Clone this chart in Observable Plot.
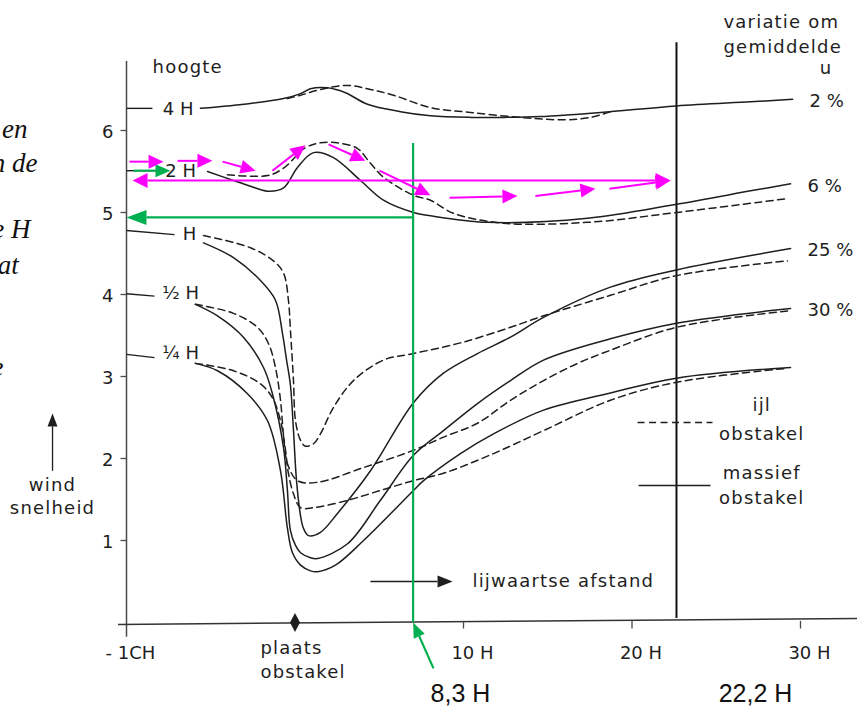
<!DOCTYPE html>
<html>
<head>
<meta charset="utf-8">
<script src="https://cdn.jsdelivr.net/npm/d3@7"></script>
<script src="https://cdn.jsdelivr.net/npm/@observablehq/plot@0.6"></script>
<style>
  html, body { margin: 0; padding: 0; background: #ffffff; }
  #chart svg { display: block; }
</style>
</head>
<body>
<div id="chart"></div>
<script>
// ---------------- DATA (x: leeward distance in H, y: wind speed) ----------------
// 4 H
const h4SolidDist  = [-5.61, -2.64, -0.68, 0.33, 0.92, 1.93, 3.00, 4.30, 6.26, 8.04, 10.42, 12.37, 14.57, 18.13, 22.64, 27.03, 29.53];
const h4SolidSpeed = [ 6.27,  6.33,  6.39, 6.45, 6.51, 6.52, 6.46, 6.32, 6.23, 6.18,  6.16,  6.16,  6.17,  6.22,  6.30,  6.35,  6.38];
const h4DashDist   = [-0.45, 0.33, 1.51, 3.12, 4.48, 5.85, 8.04, 10.42, 13.38, 15.93, 17.54, 18.90];
const h4DashSpeed  = [ 6.39, 6.43, 6.50, 6.55, 6.50, 6.43, 6.28,  6.22,  6.16,  6.13,  6.16,  6.24];
// 2 H
const h2SolidDist  = [-5.19, -3.65, -2.64, -1.63, -0.68, 0.15, 1.10, 2.28, 3.89, 5.25, 7.03, 8.04, 11.42, 17.36, 22.64, 27.21, 29.41];
const h2SolidSpeed = [ 5.50,  5.39,  5.32,  5.26,  5.30, 5.55, 5.73, 5.67, 5.39, 5.15, 5.00, 4.96,  4.88,  4.93,  5.10,  5.27,  5.35];
const h2DashDist   = [-4.01, -1.63, -0.68, 0.62, 1.51, 2.52, 3.71, 4.48, 5.25, 7.03, 8.04, 9.41, 12.37, 17.36, 22.64, 29.23];
const h2DashSpeed  = [ 5.46,  5.45,  5.54, 5.79, 5.85, 5.85, 5.78, 5.60, 5.43, 5.21, 5.15, 4.99,  4.87,  4.88,  5.00,  5.17];
// 1 H
const h1SolidDist  = [-5.43, -3.65, -2.05, -1.16, -0.74, -0.50, -0.27, -0.09, 0.09, 0.33, 0.50, 0.80, 1.51, 2.52, 4.48, 7.03, 8.81, 10.83, 12.79, 14.75, 18.72, 22.64, 29.41];
const h1SolidSpeed = [ 4.63,  4.45,  4.17,  3.93,  3.52,  3.20,  2.89,  2.34, 1.73, 1.30, 1.15, 1.06, 1.10, 1.33, 1.85, 2.68, 3.04,  3.28,  3.48,  3.72,  4.09,  4.30,  4.56];
const h1DashDist   = [-5.43, -2.64, -1.28, -0.68, -0.39, -0.27, -0.09, 0.03, 0.33, 0.62, 1.10, 1.51, 2.28, 3.47, 5.25, 7.03, 9.82, 12.79, 14.75, 18.72, 22.64, 29.23];
const h1DashSpeed  = [ 4.72,  4.57,  4.41,  4.26,  3.93,  3.56,  2.95, 2.46, 2.22, 2.15, 2.18, 2.30, 2.62, 2.95, 3.20, 3.28, 3.41,  3.60,  3.74,  3.99,  4.23,  4.41];
// 1/2 H
const hHalfSolidDist  = [-5.91, -4.60, -3.06, -1.87, -1.34, -0.68, -0.45, -0.27, 0.03, 0.33, 0.92, 1.34, 3.12, 5.07, 7.03, 8.81, 10.83, 12.79, 14.75, 18.72, 22.64, 29.41];
const hHalfSolidSpeed = [ 3.88,  3.74,  3.48,  3.11,  2.79,  2.13,  1.61,  1.12, 0.94, 0.85, 0.79, 0.78, 0.96, 1.49, 2.04, 2.34,  2.67,  2.95,  3.20,  3.46,  3.65,  3.83];
const hHalfDashDist   = [-5.91, -3.65, -2.23, -1.57, -1.16, -0.86, -0.68, -0.45, 0.15, 1.34, 4.07, 7.03, 8.81, 10.83, 12.79, 14.75, 16.77, 18.72, 22.64, 29.23];
const hHalfDashSpeed  = [ 3.88,  3.77,  3.60,  3.40,  3.11,  2.71,  2.28,  1.94, 1.73, 1.71, 1.89, 2.10, 2.26,  2.43,  2.71,  2.95,  3.16,  3.32,  3.60,  3.80];
// 1/4 H
const hQuarterSolidDist  = [-5.91, -4.60, -2.82, -1.63, -0.86, -0.45, -0.15, 0.33, 0.92, 1.34, 2.40, 4.07, 7.03, 7.63, 9.82, 11.78, 14.75, 18.72, 22.64, 29.41];
const hQuarterSolidSpeed = [ 3.16,  3.07,  2.79,  2.46,  1.85,  1.15,  0.85, 0.70, 0.63, 0.62, 0.70, 1.00, 1.61, 1.73, 2.06,  2.30,  2.59,  2.80,  2.98,  3.11];
const hQuarterDashDist   = [-5.91, -3.65, -2.05, -1.34, -0.86, -0.56, -0.39, -0.09, 0.33, 1.10, 3.12, 5.07, 7.03, 8.81, 11.78, 14.75, 18.72, 22.64, 29.23];
const hQuarterDashSpeed  = [ 3.16,  3.07,  2.91,  2.74,  2.46,  2.10,  1.82,  1.57, 1.40, 1.40, 1.49, 1.61, 1.73, 1.82,  2.06,  2.34,  2.71,  2.93,  3.10];

// upstream profile stubs (from the speed axis to the height label)
const leaderFromSpeed = [6.27, 5.51, 4.78, 4.01, 3.27];
const leaderToSpeed   = [6.27, 5.51, 4.73, 3.98, 3.23];
const leaderToDist    = [-8.46, -8.2, -7.15, -8.34, -8.34];

// labels
const heightNames      = ["4 H", "2 H", "H", "½ H", "¼ H"];
const heightLabelDist  = [-6.94, -6.79, -6.26, -6.79, -6.79];
const heightLabelSpeed = [6.26, 5.50, 4.74, 4.02, 3.28];
const variationLabels  = ["2 %", "6 %", "25 %", "30 %"];
const yTickValues = [1, 2, 3, 4, 5, 6];
const xTickValues = [-10, 10, 20, 30];
const xTickLabels = ["- 1CH", "10 H", "20 H", "30 H"];
const obstacleDist = [0];
const markerLineDist = [7.01, 22.64];          // green and black verticals
const markerLabels   = ["8,3 H", "22,2 H"];
const markerLabelDist = [9.82, 27.33];

// magenta flow arrows (from -> to)
const magentaFromDist  = [-9.82, -6.97, -4.30, -1.34, 1.99, 5.01, 9.17, 14.27, 18.66];
const magentaFromSpeed = [ 5.62,  5.63,  5.62,  5.51, 5.83, 5.51, 5.18,  5.20,  5.29];
const magentaToDist    = [-7.80, -4.90, -2.34,  0.62, 4.18, 8.04, 13.20, 17.83, 22.29];
const magentaToSpeed   = [ 5.62,  5.63,  5.51,  5.82, 5.63, 5.21, 5.20,  5.29,  5.39];
const magentaSpanDist  = [-9.64, 22.29];
const magentaSpanSpeed = 5.39;
// green annotations
const greenTopSpeed   = 5.84;
const greenLevelSpeed = 4.94;
const greenSmallFrom  = [-9.58, 5.51], greenSmallTo = [-7.39, 5.51];
const greenPointerFrom = [8.22, -0.56];

// left cut-off italic text
const sideFragments     = ["en", "n de", "e H", "at", "e"];
const sideFragmentDist  = [-15.88, -15.28, -15.70, -16.40, -17.30];
const sideFragmentSpeed = [6.02, 5.60, 4.80, 4.35, 3.11];

// ---------------- SCALES ----------------
const xDomain = [-10, 30], xRange = [126, 800];
const yDomain = [0, 6], yRange = [622, 130];
const kx = (xRange[1] - xRange[0]) / (xDomain[1] - xDomain[0]);   // px per H
const ky = (yRange[0] - yRange[1]) / (yDomain[1] - yDomain[0]);   // px per speed unit
const px2x = p => p / kx, px2y = p => p / ky;

const ink = "#1e1e1e", axisInk = "#4a4a4a", magenta = "#ff00ff", green = "#00b050";
const sans = "DejaVu Sans, sans-serif";

// ---------------- BUILD ROWS ----------------
const toRows = (d, s, key) => d.map((x, i) => ({x, y: s[i], key}));
const solidRows = [
  ...toRows(h4SolidDist, h4SolidSpeed, "4H"), ...toRows(h2SolidDist, h2SolidSpeed, "2H"),
  ...toRows(h1SolidDist, h1SolidSpeed, "1H"), ...toRows(hHalfSolidDist, hHalfSolidSpeed, "hH"),
  ...toRows(hQuarterSolidDist, hQuarterSolidSpeed, "qH")];
const dashRows = [
  ...toRows(h4DashDist, h4DashSpeed, "4H"), ...toRows(h2DashDist, h2DashSpeed, "2H"),
  ...toRows(h1DashDist, h1DashSpeed, "1H"), ...toRows(hHalfDashDist, hHalfDashSpeed, "hH"),
  ...toRows(hQuarterDashDist, hQuarterDashSpeed, "qH")];
const leaders = leaderFromSpeed.map((s, i) => ({x1: xDomain[0], y1: s, x2: leaderToDist[i], y2: leaderToSpeed[i]}));
const heightLabelRows = heightNames.map((t, i) => ({t, x: heightLabelDist[i], y: heightLabelSpeed[i]}));
const seriesEnds = [
  [h4SolidDist, h4SolidSpeed], [h2SolidDist, h2SolidSpeed], [h1SolidDist, h1SolidSpeed], [hHalfSolidDist, hHalfSolidSpeed]
].map(([d, s]) => ({x: d[d.length - 1], y: s[s.length - 1]}));
const variationRows = variationLabels.map((t, i) => ({t, ...seriesEnds[i]}));

// arrows -> shaft + filled triangular head (computed in pixel space)
function arrow(x1, y1, x2, y2, len, wid, id) {
  const dxp = (x2 - x1) * kx, dyp = (y2 - y1) * ky, n = Math.hypot(dxp, dyp);
  const ux = dxp / n, uy = dyp / n;
  const bx = x2 - px2x(ux * len), by = y2 - px2y(uy * len);
  const h = wid / 2;
  return {
    shaft: {x1, y1, x2: bx, y2: by},
    head: [
      {id, x: x2, y: y2},
      {id, x: bx + px2x(-uy * h), y: by + px2y(ux * h)},
      {id, x: bx - px2x(-uy * h), y: by - px2y(ux * h)}
    ]
  };
}
const spanMid = (magentaSpanDist[0] + magentaSpanDist[1]) / 2;
const magentaArrows = [
  ...magentaFromDist.map((d, i) => arrow(d, magentaFromSpeed[i], magentaToDist[i], magentaToSpeed[i], 15, 14, "m" + i)),
  arrow(spanMid, magentaSpanSpeed, magentaSpanDist[0], magentaSpanSpeed, 15, 15, "ms0"),
  arrow(spanMid, magentaSpanSpeed, magentaSpanDist[1], magentaSpanSpeed, 15, 15, "ms1")
];
const greenArrows = [
  arrow(markerLineDist[0], greenLevelSpeed, xDomain[0], greenLevelSpeed, 20, 15, "g0"),
  arrow(greenSmallFrom[0], greenSmallFrom[1], greenSmallTo[0], greenSmallTo[1], 15, 13, "g1"),
  arrow(greenPointerFrom[0], greenPointerFrom[1], markerLineDist[0], 0, 15, 12, "g2")
];
const blackArrows = [
  arrow(4.48, 0.50, 9.35, 0.50, 15, 12, "b0"),      // lijwaartse afstand
  arrow(-14.39, 1.85, -14.39, 2.55, 13, 10, "b1")   // wind snelheid
];
const diamond = obstacleDist.flatMap(d => [
  {x: d, y: px2y(9.5)}, {x: d + px2x(5), y: 0}, {x: d, y: -px2y(9.5)}, {x: d - px2x(5), y: 0}
]);

const yTickLen = px2x(6), xTickLen = px2y(6);
const textOpts = {fontFamily: sans, fontSize: 18, fill: ink};
const wordTexts = ["plaats", "obstakel", "hoogte", "variatie om", "gemiddelde", "ijl", "massief", "lijwaartse afstand", "wind", "snelheid"];

const chart = Plot.plot({
  width: 857,
  height: 706,
  margin: 0,
  style: {background: "#ffffff", fontFamily: sans, overflow: "visible"},
  x: {domain: xDomain, range: xRange, axis: null},
  y: {domain: yDomain, range: yRange, axis: null},
  marks: [
    // axes
    Plot.ruleX([xDomain[0]], {y1: -0.18, y2: 6.84, stroke: axisInk, strokeWidth: 1.5}),
    Plot.link([{x1: -10.5, y1: -0.024, x2: 33.5, y2: 0.05}], {x1: "x1", y1: "y1", x2: "x2", y2: "y2", stroke: "#333", strokeWidth: 1.5}),
    Plot.link(yTickValues, {x1: xDomain[0] - yTickLen, x2: xDomain[0], y1: d => d, y2: d => d, stroke: axisInk, strokeWidth: 1.3}),
    Plot.text(yTickValues, {x: xDomain[0], y: d => d, text: d => String(d), textAnchor: "end", dx: -13, dy: 2, ...textOpts}),
    Plot.link(xTickValues.slice(1), {x1: d => d, x2: d => d, y1: 0.02, y2: -xTickLen, stroke: axisInk, strokeWidth: 1.3}),
    Plot.text(xTickValues.slice(0, 1), {x: d => d, y: 0, text: () => xTickLabels[0], dx: 4, dy: 31, ...textOpts}),
    Plot.text(xTickValues.slice(1), {x: d => d, y: 0, text: (d, i) => xTickLabels[i + 1], dx: 9, dy: 31, ...textOpts}),

    // obstacle marker
    Plot.line(diamond, {x: "x", y: "y", fill: ink, stroke: "none", curve: "linear-closed"}),
    Plot.text(["plaats", "obstakel"], {x: -2.05, y: (d, i) => [-0.317, -0.61][i], text: d => d, textAnchor: "start", ...textOpts}),

    // vertical black line
    Plot.ruleX([markerLineDist[1]], {y1: 0.05, y2: 7.07, stroke: "#111", strokeWidth: 2}),

    // upstream stubs + height labels
    Plot.link(leaders, {x1: "x1", y1: "y1", x2: "x2", y2: "y2", stroke: ink, strokeWidth: 1.4}),
    Plot.text(heightLabelRows, {x: "x", y: "y", text: "t", ...textOpts}),
    Plot.text(["hoogte"], {x: -8.45, y: 6.77, text: d => d, textAnchor: "start", ...textOpts}),

    // profiles
    Plot.line(dashRows, {x: "x", y: "y", z: "key", stroke: ink, strokeWidth: 1.5, strokeDasharray: "7,4.5", curve: "catmull-rom"}),
    Plot.line(solidRows, {x: "x", y: "y", z: "key", stroke: ink, strokeWidth: 1.5, curve: "catmull-rom"}),

    // variation labels
    Plot.text(variationRows, {x: "x", y: "y", text: "t", textAnchor: "start", dx: 17, dy: 2, ...textOpts}),
    Plot.text(["variatie om", "gemiddelde"], {x: 25.43, y: (d, i) => [7.32, 7.01][i], text: d => d, textAnchor: "start", ...textOpts}),
    Plot.text(["u"], {x: 31.48, y: 6.76, text: d => d, ...textOpts}),

    // legend
    Plot.link([{x1: 20.33, x2: 24.78, y: 2.44}], {x1: "x1", x2: "x2", y1: "y", y2: "y", stroke: ink, strokeWidth: 1.5, strokeDasharray: "7,4.5"}),
    Plot.link([{x1: 20.39, x2: 24.66, y: 1.67}], {x1: "x1", x2: "x2", y1: "y", y2: "y", stroke: ink, strokeWidth: 1.5}),
    Plot.text(["ijl", "obstakel", "massief", "obstakel"], {x: 27.7, y: (d, i) => [2.65, 2.30, 1.82, 1.52][i], text: d => d, ...textOpts}),

    // black arrows + their labels
    Plot.link(blackArrows.map(a => a.shaft), {x1: "x1", y1: "y1", x2: "x2", y2: "y2", stroke: ink, strokeWidth: 1.3}),
    Plot.line(blackArrows.flatMap(a => a.head), {x: "x", y: "y", z: "id", fill: ink, stroke: "none", curve: "linear-closed"}),
    Plot.text(["lijwaartse afstand"], {x: 10.53, y: 0.5, text: d => d, textAnchor: "start", ...textOpts}),
    Plot.text(["wind", "snelheid"], {x: -14.39, y: (d, i) => [1.68, 1.39][i], text: d => d, ...textOpts}),

    // green annotation
    Plot.ruleX([markerLineDist[0]], {y1: 0, y2: greenTopSpeed, stroke: green, strokeWidth: 2.2}),
    Plot.link(greenArrows.map(a => a.shaft), {x1: "x1", y1: "y1", x2: "x2", y2: "y2", stroke: green, strokeWidth: 2.2}),
    Plot.line(greenArrows.flatMap(a => a.head), {x: "x", y: "y", z: "id", fill: green, stroke: "none", curve: "linear-closed"}),

    // magenta flow arrows
    Plot.link(magentaArrows.map(a => a.shaft), {x1: "x1", y1: "y1", x2: "x2", y2: "y2", stroke: magenta, strokeWidth: 2}),
    Plot.line(magentaArrows.flatMap(a => a.head), {x: "x", y: "y", z: "id", fill: magenta, stroke: "none", curve: "linear-closed"}),

    // marker labels
    Plot.text(markerLabels, {x: (d, i) => markerLabelDist[i], y: -0.87, text: d => d, fontFamily: "Liberation Sans, Arial, sans-serif", fontSize: 25, fill: "#111"}),

    // cut-off italic text on the left
    Plot.text(sideFragments, {x: (d, i) => sideFragmentDist[i], y: (d, i) => sideFragmentSpeed[i], text: d => d, textAnchor: "end",
      fontFamily: "Liberation Serif, Times New Roman, serif", fontStyle: "italic", fontSize: 27, fill: "#111"})
  ]
});
// wider tracking for the word labels (the original uses a wide geometric face)
d3.select(chart).selectAll("text")
  .filter(function () { return wordTexts.includes(this.textContent); })
  .attr("letter-spacing", "1.2")
  .style("letter-spacing", "1.2px");
document.getElementById("chart").appendChild(chart);
</script>
</body>
</html>
